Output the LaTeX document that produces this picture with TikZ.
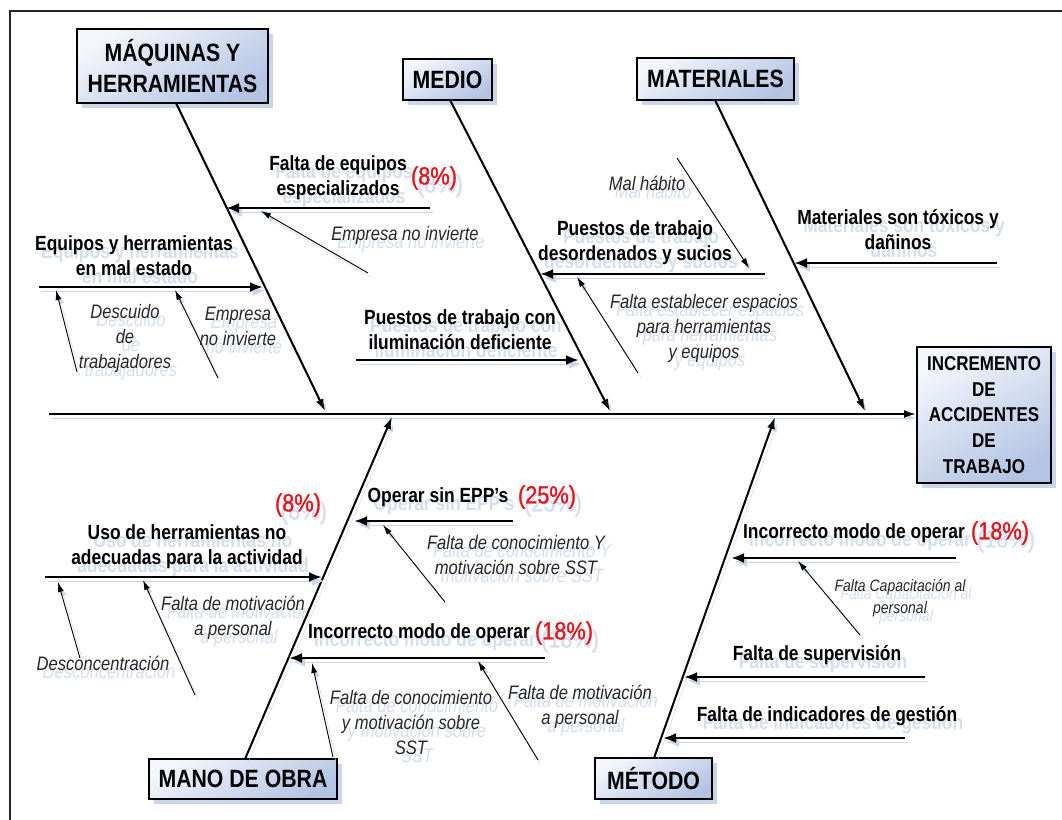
\documentclass[tikz,border=0pt]{standalone}
\usepackage{fontspec}
\usetikzlibrary{arrows.meta,calc,shadows}
\newfontfamily\ls[FakeStretch=0.85]{Liberation Sans}
\newfontfamily\lsr[FakeStretch=0.87, FakeBold=1.2]{Liberation Sans}
\definecolor{boxA}{HTML}{F3F6FC}
\definecolor{boxB}{HTML}{B3C4E3}
\definecolor{shadc}{HTML}{C9D5EB}
\definecolor{ghostc}{HTML}{D3DEF1}
\definecolor{pct}{HTML}{E8141B}
\newcommand\lbl[4][]{%
  \node[#1,ghost] (#2g) at ($(#3)+(6,8)$) {#4};
  \node[#1] (#2) at (#3) {#4};}
\begin{document}
\begin{tikzpicture}[x=1pt,y=-1pt,
  catbox/.style={draw, line width=2pt, top color=boxA, bottom color=boxB, shading angle=30,
    drop shadow={shadow xshift=5pt, shadow yshift=-5pt, fill=shadc, opacity=1},
    inner sep=0pt, align=center, font=\ls\bfseries\fontsize{25}{31}\selectfont},
  headbox/.style={catbox, font=\ls\bfseries\fontsize{20}{25.7}\selectfont},
  bl/.style={font=\ls\bfseries\fontsize{20.5}{25}\selectfont, align=center, inner sep=0pt},
  it/.style={font=\ls\itshape\fontsize{19.5}{25}\selectfont, align=center, inner sep=0pt, text=black!85},
  its/.style={font=\ls\itshape\fontsize{16.5}{22}\selectfont, align=center, inner sep=0pt, text=black!85},
  pc/.style={font=\lsr\fontsize{25}{28}\selectfont, text=pct, inner sep=0pt},
  ghost/.style={text=ghostc},
  lsh/.style={preaction={draw=shadc, transform canvas={shift={(3pt,-4pt)}}}},
  bone/.style={line width=2pt, -{Latex[length=12pt,width=8pt]}, lsh},
  sub/.style={line width=2.6pt, -{Latex[length=13pt,width=10pt]}, lsh},
  thin/.style={line width=0.9pt, -{Latex[length=10pt,width=6pt]}, lsh}
]
\useasboundingbox (0,0) rectangle (1062,819);
\clip (0,0) rectangle (1062,819);
\draw[line width=1.6pt, black!85] (10,11) rectangle (1090,850);

% labels (drawn first so that lines lie over their shadows)
\lbl[bl]{b1}{338,178}{Falta de equipos\\especializados}
\lbl[pc]{r1}{434,178}{(8\%)}
\lbl[it]{i1}{405,235}{Empresa no invierte}
\lbl[bl]{b2}{134,256}{Equipos y herramientas\\en mal estado}
\lbl[it]{i2}{125,338}{Descuido\\de\\trabajadores}
\lbl[it]{i3}{238,326}{Empresa\\no invierte}
\lbl[bl]{b3}{460,330}{Puestos de trabajo con\\iluminación deficiente}
\lbl[bl]{b4}{635,243}{Puestos de trabajo\\desordenados y sucios}
\lbl[it]{i4}{647,183}{Mal hábito}
\lbl[it]{i5}{704,328}{Falta establecer espacios\\para herramientas\\y equipos}
\lbl[bl]{b5}{898,230}{Materiales son tóxicos y\\dañinos}
\lbl[bl]{b6}{187,547}{Uso de herramientas no\\adecuadas para la actividad}
\lbl[pc]{r2}{298,505}{(8\%)}
\lbl[it]{i6}{233,618}{Falta de motivación\\a personal}
\lbl[it]{i7}{103,663}{Desconcentración}
\lbl[bl]{b7}{438,497}{Operar sin EPP’s}
\lbl[pc]{r3}{547,497}{(25\%)}
\lbl[it]{i8}{516,555}{Falta de conocimiento Y\\motivación sobre SST}
\lbl[bl]{b8}{419,633}{Incorrecto modo de operar}
\lbl[pc]{r4}{564,633}{(18\%)}
\lbl[it]{i9}{411,723}{Falta de conocimiento\\y motivación sobre\\SST}
\lbl[it]{i10}{580,707}{Falta de motivación\\a personal}
\lbl[bl]{b9}{854,533}{Incorrecto modo de operar}
\lbl[pc]{r5}{1000,533}{(18\%)}
\lbl[its]{i11}{900,598}{Falta Capacitación al\\personal}
\lbl[bl]{b10}{817,655}{Falta de supervisión}
\lbl[bl]{b11}{827,716}{Falta de indicadores de gestión}

% category boxes
\node[catbox, minimum width=191pt, minimum height=74pt] (mh) at (172.5,66) {MÁQUINAS Y\\HERRAMIENTAS};
\node[catbox, minimum width=89pt, minimum height=41pt] (medio) at (447.5,79.5) {MEDIO};
\node[catbox, minimum width=157pt, minimum height=42pt] (mat) at (715.5,79) {MATERIALES};
\node[catbox, minimum width=188pt, minimum height=40pt] (mano) at (243,779) {MANO DE OBRA};
\node[catbox, minimum width=117pt, minimum height=41pt] (met) at (653.5,778.5) {MÉTODO};
\node[headbox, minimum width=134pt, minimum height=136pt] (head) at (984,415) {INCREMENTO\\DE\\ACCIDENTES\\DE\\TRABAJO};

% spine
\coordinate (sp0) at (49,414);
\draw[bone] (sp0) -- (head.west |- sp0);

% main bones
\coordinate (mhS) at (176,103);   \coordinate (mhE) at (325,411);
\coordinate (meS) at (450,100);   \coordinate (meE) at (610,411);
\coordinate (maS) at (715,100);   \coordinate (maE) at (865,411);
\coordinate (moS) at (245,759);   \coordinate (moE) at (392,417);
\coordinate (mtS) at (654,758);   \coordinate (mtE) at (775,417);
\draw[bone] (mhS) -- (mhE);
\draw[bone] (meS) -- (meE);
\draw[bone] (maS) -- (maE);
\draw[bone] (moS) -- (moE);
\draw[bone] (mtS) -- (mtE);

% sub-cause arrows
\coordinate (a1s) at (430,208); \coordinate (a1e) at (226,208);
\coordinate (a2s) at (39,287);  \coordinate (a2e) at (263,287);
\coordinate (a3s) at (356,360); \coordinate (a3e) at (579,360);
\coordinate (a4s) at (765,274); \coordinate (a4e) at (540,274);
\coordinate (a5s) at (997,263); \coordinate (a5e) at (794,263);
\coordinate (a6s) at (45,577);  \coordinate (a6e) at (322,577);
\coordinate (a7s) at (513,521); \coordinate (a7e) at (354,521);
\coordinate (a8s) at (545,658); \coordinate (a8e) at (289,658);
\coordinate (a9s) at (956,558); \coordinate (a9e) at (731,558);
\coordinate (a10s) at (925,677); \coordinate (a10e) at (684,677);
\coordinate (a11s) at (905,738); \coordinate (a11e) at (663,738);
\foreach \i in {1,...,11} {\draw[sub] (a\i s) -- (a\i e);}

% thin arrows
\coordinate (t1s) at (368,273); \coordinate (t1e) at (261,211);
\coordinate (t2s) at (77,372);  \coordinate (t2e) at (56,290);
\coordinate (t3s) at (218,378); \coordinate (t3e) at (175,290);
\coordinate (t4s) at (677,158); \coordinate (t4e) at (749,268);
\coordinate (t5s) at (638,373); \coordinate (t5e) at (577,277);
\coordinate (t6s) at (195,695); \coordinate (t6e) at (143,580);
\coordinate (t7s) at (80,658);  \coordinate (t7e) at (58,582);
\coordinate (t8s) at (445,602); \coordinate (t8e) at (383,525);
\coordinate (t9s) at (333,757); \coordinate (t9e) at (312,663);
\coordinate (t10s) at (538,760); \coordinate (t10e) at (478,661);
\coordinate (t11s) at (860,635); \coordinate (t11e) at (798,561);
\foreach \i in {1,...,11} {\draw[thin] (t\i s) -- (t\i e);}
\end{tikzpicture}
\end{document}
